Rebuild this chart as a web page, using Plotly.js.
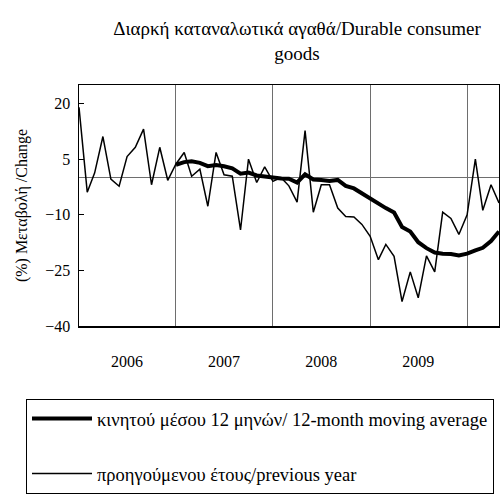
<!DOCTYPE html>
<html>
<head>
<meta charset="utf-8">
<script src="https://cdn.plot.ly/plotly-3.0.1.min.js"></script>
<style>
html,body{margin:0;padding:0;background:#fff;}
#chart{width:500px;height:496px;}
</style>
</head>
<body>
<div id="chart"></div>
<script>
// Monthly dates Jan 2006 .. May 2010
const months = [
  "2006-01","2006-02","2006-03","2006-04","2006-05","2006-06","2006-07","2006-08","2006-09","2006-10","2006-11","2006-12",
  "2007-01","2007-02","2007-03","2007-04","2007-05","2007-06","2007-07","2007-08","2007-09","2007-10","2007-11","2007-12",
  "2008-01","2008-02","2008-03","2008-04","2008-05","2008-06","2008-07","2008-08","2008-09","2008-10","2008-11","2008-12",
  "2009-01","2009-02","2009-03","2009-04","2009-05","2009-06","2009-07","2009-08","2009-09","2009-10","2009-11","2009-12",
  "2010-01","2010-02","2010-03","2010-04","2010-05"
];
// Change vs previous year (%)
const yoyChange = [
  19, -3.9, 1.3, 11.1, -0.4, -2.3, 5.7, 8.2, 13.1, -1.9, 8.2, -0.7,
  3.7, 6.8, 0.4, 2.3, -7.7, 6.8, 0.8, 0.4, -14.1, 5, -1.3, 2.9,
  -1, 0, -2.2, -6.6, 12.7, -9.3, -1.9, -1.9, -8.2, -10.5, -10.6, -12.6,
  -15.8, -22.1, -18, -21.2, -33.4, -25.4, -32.4, -21.1, -25.4, -9.3, -11, -15.3,
  -10, 5, -8.8, -1.9, -6.8
];
// 12-month moving average (%), available from Jan 2007
const movingAvg = [
  null, null, null, null, null, null, null, null, null, null, null, null,
  3.5, 4.2, 4.4, 4.0, 3.1, 3.4, 3.1, 2.5, 1.1, 1.4, 0.6, 0.3,
  0.1, -0.2, -0.3, -1.3, 0.9, -0.5, -0.6, -0.9, -0.6, -2.2, -2.9, -4.3,
  -5.5, -7.0, -8.2, -9.4, -13.3, -14.5, -17.4, -19.0, -20.2, -20.5, -20.6, -21.0,
  -20.5, -19.6, -18.9, -17.1, -14.5
];
const yearTickVals = ["2006-07-01","2007-07-01","2008-07-01","2009-07-01"];
const yearTickText = ["2006","2007","2008","2009"];
const yearBreaks = ["2007-01-01","2008-01-01","2009-01-01","2010-01-01"];
const yTicks = [-40, -25, -10, 5, 20];

const serif = "Liberation Serif, Times New Roman, serif";

const traces = [
  {
    x: months, y: yoyChange, type: "scatter", mode: "lines",
    name: "προηγούμενου έτους/previous year",
    line: {color: "#000", width: 1.5},
    legendgroup: "b", legendrank: 2
  },
  {
    x: months, y: movingAvg, type: "scatter", mode: "lines",
    name: "κινητού μέσου 12 μηνών/ 12-month moving average",
    line: {color: "#000", width: 4},
    legendgroup: "a", legendrank: 1
  }
];

const layout = {
  width: 500, height: 496,
  margin: {l: 79, r: 1, t: 85, b: 170, autoexpand: false},
  paper_bgcolor: "#fff", plot_bgcolor: "#fff",
  font: {family: serif, color: "#000", size: 16},
  title: {
    text: "Διαρκή καταναλωτικά αγαθά/Durable consumer<br>goods",
    font: {family: serif, size: 19, color: "#000"},
    x: 297/500, xanchor: "center", xref: "container",
    y: 1 - 35/496, yanchor: "top", yref: "container"
  },
  xaxis: {
    type: "date",
    range: ["2006-01-01", "2010-05-01"],
    tickmode: "array", tickvals: yearTickVals, ticktext: yearTickText,
    ticks: "", showgrid: false, zeroline: false,
    showline: true, mirror: true, linecolor: "#000", linewidth: 1.5,
    ticklabelstandoff: 20,
    tickfont: {family: serif, size: 16, color: "#000"},
    minor: {tickmode: "array", tickvals: yearBreaks, showgrid: true, gridcolor: "#6e6e6e", gridwidth: 1, ticks: ""}
  },
  yaxis: {
    range: [-40, 25],
    tickmode: "array", tickvals: yTicks,
    ticks: "inside", ticklen: 5, tickcolor: "#000", tickwidth: 1,
    showgrid: false,
    zeroline: true, zerolinecolor: "#6e6e6e", zerolinewidth: 1,
    showline: true, mirror: true, linecolor: "#000", linewidth: 1.5,
    ticklabelstandoff: 4,
    tickfont: {family: serif, size: 16, color: "#000"},
    title: {text: "(%) Μεταβολή /Change", font: {family: serif, size: 16, color: "#000"}, standoff: 13}
  },
  showlegend: true,
  legend: {
    x: -53/420, xanchor: "left", xref: "paper",
    y: -73/241, yanchor: "top", yref: "paper",
    bordercolor: "#000", borderwidth: 1, bgcolor: "#fff",
    font: {family: serif, size: 18.5, color: "#000"},
    tracegroupgap: 28, traceorder: "grouped",
    itemwidth: 60,
    entrywidth: 520, entrywidthmode: "pixels"
  }
};

Plotly.newPlot("chart", traces, layout, {displayModeBar: false, staticPlot: true});
</script>
</body>
</html>
